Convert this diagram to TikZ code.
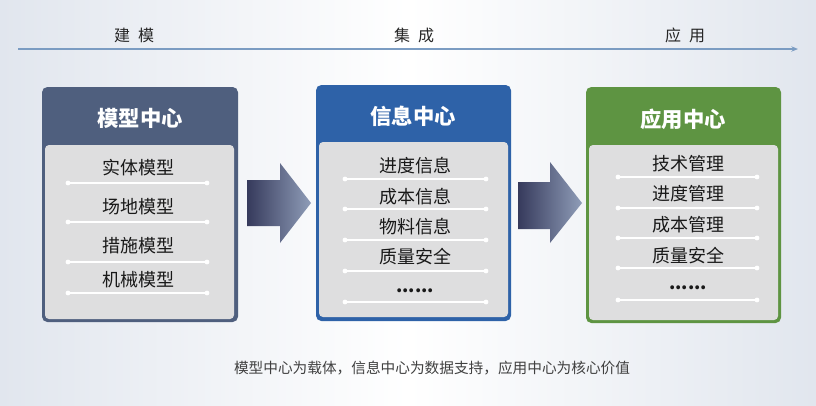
\documentclass[tikz,border=0pt]{standalone}
\usepackage{fontspec}
\setmainfont{Noto Sans CJK SC}
\newfontfamily\cjk{Noto Sans CJK SC}
\usetikzlibrary{arrows.meta}
\definecolor{bgedge}{HTML}{E1E6EE}
\definecolor{axis}{HTML}{7B9CC2}
\definecolor{modelc}{HTML}{4F5F7E}
\definecolor{infoc}{HTML}{2E62A8}
\definecolor{appc}{HTML}{5E9442}
\definecolor{panel}{HTML}{DEDEDF}
\definecolor{arrL}{HTML}{363A5C}
\definecolor{arrR}{HTML}{8F9DB8}
\definecolor{captc}{HTML}{404040}
\tikzset{
  outerbox/.style={rounded corners=4pt},
  panelbox/.style={fill=panel, rounded corners=3pt},
  titletext/.style={text=white, font=\cjk\bfseries\fontsize{16}{18}\selectfont, inner sep=0pt},
  itemtext/.style={text=black!90, font=\cjk\fontsize{13.5}{15}\selectfont, inner sep=0pt},
  dotstext/.style={text=black!90, font=\cjk\bfseries\fontsize{13.5}{15}\selectfont, inner sep=0pt},
  sepline/.style={draw=white, line width=0.8pt},
  sepdot/.style={fill=white, draw=none},
  toplabel/.style={text=black!85, font=\cjk\fontsize{12}{14}\selectfont, inner sep=0pt},
  bigarrow/.style={left color=arrL, right color=arrR, draw=none},
}
\newcommand{\sepat}[3]{% y, x1, x2
  \draw[sepline] (#2,#1) -- (#3,#1);
  \fill[sepdot] (#2,#1) circle (1.8pt);
  \fill[sepdot] (#3,#1) circle (1.8pt);
}
\begin{document}
\begin{tikzpicture}[x=0.75pt,y=-0.75pt]
\useasboundingbox (0,0) rectangle (816,405);
% background
\shade[left color=bgedge, right color=bgedge, middle color=white] (0,0) rectangle (816,405);

% timeline
\coordinate (tl0) at (18,49);
\coordinate (tl1) at (798,49);
\draw[axis, line width=1.5pt, -{Stealth[length=5pt,width=4pt]}] (tl0) -- (tl1);
\node[toplabel] (lab1) at (134,35) {建\hspace{0.5em}模};
\node[toplabel] (lab2) at (414,35) {集\hspace{0.5em}成};
\node[toplabel] (lab3) at (685,35) {应\hspace{0.5em}用};

% ---------- model box
\fill[outerbox, modelc] (42,87) rectangle (238,322);
\fill[panelbox] (45,145) rectangle (234,319);
\node[titletext] (modelT) at (140,118) {模型中心};
\node[itemtext] (m1) at (138,168) {实体模型};
\node[itemtext] (m2) at (138,207) {场地模型};
\node[itemtext] (m3) at (138,246) {措施模型};
\node[itemtext] (m4) at (138,280) {机械模型};
\sepat{183}{68}{207}
\sepat{222}{68}{207}
\sepat{262}{68}{207}
\sepat{293}{68}{207}

% ---------- info box
\fill[outerbox, infoc] (316,85) rectangle (511,321);
\fill[panelbox] (319,142) rectangle (508,317);
\node[titletext] (infoT) at (413,116) {信息中心};
\node[itemtext] (i1) at (415,166) {进度信息};
\node[itemtext] (i2) at (415,197) {成本信息};
\node[itemtext] (i3) at (415,227) {物料信息};
\node[itemtext] (i4) at (415,257) {质量安全};
\node[dotstext] (i5) at (415,291) {......};
\sepat{179}{345}{486}
\sepat{209}{345}{486}
\sepat{240}{345}{486}
\sepat{271}{345}{486}
\sepat{302}{345}{486}

% ---------- app box
\fill[outerbox, appc] (586,87) rectangle (781,323);
\fill[panelbox] (589,145) rectangle (778,320);
\node[titletext] (appT) at (683,119) {应用中心};
\node[itemtext] (a1) at (688,164) {技术管理};
\node[itemtext] (a2) at (688,194) {进度管理};
\node[itemtext] (a3) at (688,225) {成本管理};
\node[itemtext] (a4) at (688,256) {质量安全};
\node[dotstext] (a5) at (688,288) {......};
\sepat{177}{618}{757}
\sepat{208}{618}{757}
\sepat{238}{618}{757}
\sepat{268}{618}{757}
\sepat{300}{618}{757}

% ---------- big arrows
\shade[bigarrow] (247,180) -- (280,180) -- (280,163) -- (311,203) -- (280,243) -- (280,226) -- (247,226) -- cycle;
\shade[bigarrow] (518,182) -- (550,182) -- (550,162) -- (582,203) -- (550,243) -- (550,229) -- (518,229) -- cycle;

% caption
\node[text=captc, font=\cjk\fontsize{11}{13}\selectfont, inner sep=0pt] (cap) at (432,368) {模型中心为载体，信息中心为数据支持，应用中心为核心价值};
\end{tikzpicture}
\end{document}
